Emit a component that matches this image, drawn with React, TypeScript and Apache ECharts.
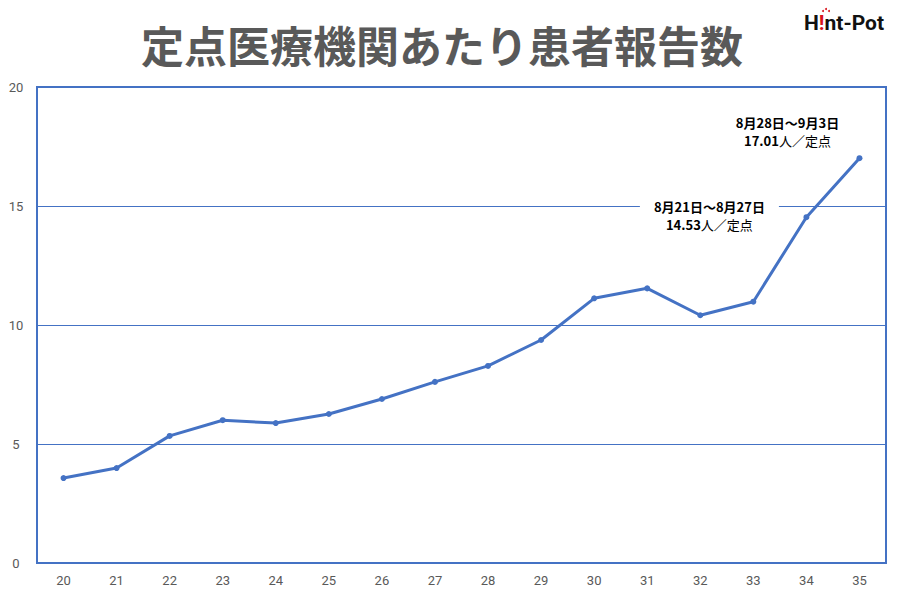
import React, { useEffect, useRef } from "react";
import * as echarts from "echarts";

const weeks = ["20", "21", "22", "23", "24", "25", "26", "27", "28", "29", "30", "31", "32", "33", "34", "35"];
const values = [3.57, 3.99, 5.34, 6.0, 5.88, 6.26, 6.89, 7.61, 8.28, 9.37, 11.12, 11.54, 10.41, 10.98, 14.53, 17.01];
const yTicks = [0, 5, 10, 15, 20];
const title = "定点医療機関あたり患者報告数";
const notes = [
  { index: 14, period: "8月21日～8月27日", value: "14.53" },
  { index: 15, period: "8月28日～9月3日", value: "17.01" },
];

const BLUE = "#4472C4";

export default function App() {
  const ref = useRef<HTMLDivElement>(null);
  useEffect(() => {
    if (!ref.current) return;
    const chart = echarts.init(ref.current, null, { renderer: "svg" });
    const richStyles = {
      b: { fontSize: 13, fontWeight: "bold", color: "#000", fontFamily: "Noto Sans CJK JP", lineHeight: 18 },
      n: { fontSize: 13, fontWeight: "normal", color: "#000", fontFamily: "Noto Sans CJK JP", lineHeight: 18 },
    };
    const data = values.map((v, i) => {
      const note = notes.find((n) => n.index === i);
      if (!note) return v;
      const isLast = i === 15;
      return {
        value: v,
        label: {
          show: true,
          position: "inside",
          offset: isLast ? [-72, -27] : [-97, -2],
          formatter: `{b|${note.period}}\n{b|${note.value}}{n|人／定点}`,
          rich: richStyles,
          align: "center",
          backgroundColor: isLast ? "transparent" : "#fff",
          padding: isLast ? 0 : [0, 14, 0, 14],
        },
      };
    });
    chart.setOption({
      animation: false,
      backgroundColor: "#fff",
      graphic: [
        {
          type: "text",
          x: 442,
          y: 44,
          style: {
            text: title,
            fontSize: 43,
            fontWeight: "bold",
            fontFamily: "Noto Sans CJK JP",
            fill: "#595959",
            textAlign: "center",
            textVerticalAlign: "middle",
          },
        },
        {
          type: "text",
          x: 844,
          y: 23,
          style: {
            text: "{h|H}{r|!}{h|nt-Pot}",
            rich: {
              h: { fontSize: 21, fontWeight: "bold", fill: "#111", fontFamily: "Roboto" },
              r: { fontSize: 21, fontWeight: "bold", fill: "#d8141c", fontFamily: "Roboto" },
            },
            textAlign: "center",
            textVerticalAlign: "middle",
          },
        },
        { type: "circle", shape: { cx: 823, cy: 11, r: 1 }, style: { fill: "#d8141c" } },
        { type: "circle", shape: { cx: 826, cy: 9, r: 1 }, style: { fill: "#d8141c" } },
        { type: "circle", shape: { cx: 829, cy: 11, r: 1 }, style: { fill: "#d8141c" } },
      ],
      grid: {
        left: 37,
        right: 14,
        top: 87,
        bottom: 38,
        show: true,
        borderColor: BLUE,
        borderWidth: 2,
        backgroundColor: "transparent",
      },
      xAxis: {
        type: "category",
        data: weeks,
        boundaryGap: true,
        axisLine: { show: false },
        axisTick: { show: false },
        axisLabel: { color: "#595959", fontSize: 13, fontFamily: "Roboto", margin: 11 },
      },
      yAxis: {
        type: "value",
        min: yTicks[0],
        max: yTicks[yTicks.length - 1],
        interval: 5,
        axisLine: { show: false },
        axisTick: { show: false },
        axisLabel: { color: "#595959", fontSize: 13, fontFamily: "Roboto", margin: 21, align: "center" },
        splitLine: { lineStyle: { color: BLUE, width: 1 } },
      },
      series: [
        {
          type: "line",
          data,
          symbol: "circle",
          symbolSize: 6,
          lineStyle: { color: BLUE, width: 3 },
          itemStyle: { color: BLUE },
          z: 3,
        },
      ],
    });
    return () => chart.dispose();
  }, []);
  return (
    <div
      ref={ref}
      style={{ position: "fixed", left: 0, top: 0, width: 900, height: 601, background: "#fff" }}
    />
  );
}
